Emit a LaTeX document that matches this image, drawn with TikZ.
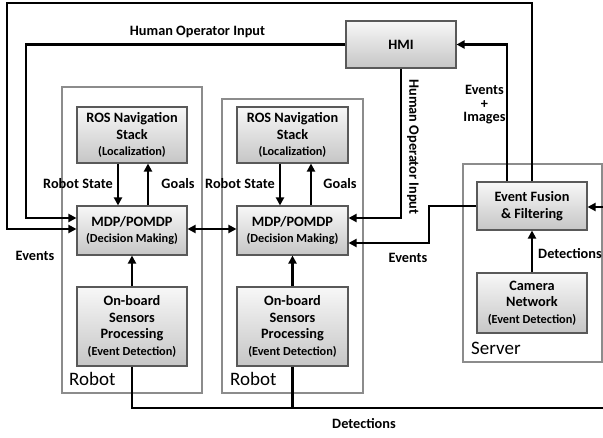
\documentclass[tikz,border=0pt]{standalone}
\usepackage{fontspec}
\setmainfont{Carlito}
\usetikzlibrary{arrows.meta}
\newcommand\smf{\fontsize{12.3}{14}\selectfont}
\begin{document}
\begin{tikzpicture}[x=1pt,y=-1pt,
  blk/.style={draw=black!65, line width=1.1pt, top color=gray!6, bottom color=gray!45,
    inner sep=1pt, align=center, font=\fontsize{14.3}{16.5}\selectfont\bfseries},
  cont/.style={draw=black!45, line width=1.1pt},
  conn/.style={line width=2.4pt, -{Triangle[length=8pt,width=8pt]}},
  plain/.style={line width=2.4pt},
  lbl/.style={font=\fontsize{14.3}{15}\selectfont\bfseries, inner sep=0pt, align=center},
  big/.style={font=\fontsize{19}{21}\selectfont, inner sep=0pt, anchor=west}
]
\useasboundingbox (0,0) rectangle (603,438);

% containers
\draw[cont] (62,87) rectangle (202,393);
\draw[cont] (222,99) rectangle (363,393);
\draw[cont] (463,164) rectangle (602,362);
\node[big] (rl1) at (69,379) {Robot};
\node[big] (rl2) at (230,379) {Robot};
\node[big] (sl) at (471,348) {Server};

% blocks
\node[blk, minimum width=110pt, minimum height=47pt] (HMI) at (401,44.5) {HMI};
\node[blk, minimum width=110pt, minimum height=56pt] (ROS1) at (132,135) {ROS Navigation\\Stack\\{\smf (Localization)}};
\node[blk, minimum width=111pt, minimum height=56pt] (ROS2) at (292.5,135) {ROS Navigation\\Stack\\{\smf (Localization)}};
\node[blk, minimum width=110pt, minimum height=49pt] (MDP1) at (132,230.5) {MDP/POMDP\\{\smf (Decision Making)}};
\node[blk, minimum width=111pt, minimum height=49pt] (MDP2) at (292.5,230.5) {MDP/POMDP\\{\smf (Decision Making)}};
\node[blk, minimum width=110pt, minimum height=79pt] (OB1) at (132,326.5) {On-board\\Sensors\\Processing\\{\smf (Event Detection)}};
\node[blk, minimum width=111pt, minimum height=79pt] (OB2) at (292.5,326.5) {On-board\\Sensors\\Processing\\{\smf (Event Detection)}};
\node[blk, minimum width=110pt, minimum height=48pt] (EF) at (532,206) {Event Fusion\\\& Filtering};
\node[blk, minimum width=110pt, minimum height=60pt] (CAM) at (532,303) {Camera\\Network\\{\smf (Event Detection)}};

% free ends
\coordinate (rin) at (606,207);
\coordinate (dout) at (606,408);

% outer events loop
\draw[conn] (EF.north) -- (532,3) -- (7,3) |- (MDP1.west |- 0,229);
% human operator input to robot 1
\draw[conn] (HMI.west) -- (26,44.5) |- (MDP1.west |- 0,218);
% human operator input to robot 2
\draw[conn] (HMI.south) |- (MDP2.east |- 0,218);
% events to robot 2
\draw[conn] (EF.west) -- (429,206) |- (MDP2.east |- 0,243);
% events + images to HMI
\draw[conn] (EF.north -| 507,0) |- (HMI.east);
% ROS <-> MDP
\draw[conn] (ROS1.south -| 118,0) -- (MDP1.north -| 118,0);
\draw[conn] (MDP1.north -| 148,0) -- (ROS1.south -| 148,0);
\draw[conn] (ROS2.south -| 280,0) -- (MDP2.north -| 280,0);
\draw[conn] (MDP2.north -| 311,0) -- (ROS2.south -| 311,0);
% sensors -> MDP
\draw[conn] (OB1.north) -- (MDP1.south);
\draw[conn] (OB2.north) -- (MDP2.south);
% MDP <-> MDP
\draw[conn, {Triangle[length=8pt,width=8pt]}-{Triangle[length=8pt,width=8pt]}] (MDP1.east |- 0,229) -- (MDP2.west |- 0,229);
% camera -> fusion
\draw[conn] (CAM.north) -- (EF.south);
% detections bus
\draw[plain] (OB1.south) |- (dout);
\draw[plain] (OB2.south) -- (OB2.south |- dout);
\draw[conn] (rin) -- (EF.east |- rin);

% labels
\node[lbl] (t1) at (197.5,32) {Human Operator Input};
\node[lbl, rotate=-90] (t2) at (413,147) {Human Operator Input};
\node[lbl, font=\fontsize{14.3}{13.5}\selectfont\bfseries] (t3) at (484.5,105) {Events\\+\\Images};
\node[lbl] (t4) at (78,184) {Robot State};
\node[lbl] (t5) at (178,184) {Goals};
\node[lbl] (t6) at (240,184) {Robot State};
\node[lbl] (t7) at (340,184) {Goals};
\node[lbl] (t8) at (35,256) {Events};
\node[lbl] (t9) at (408,258) {Events};
\node[lbl] (t10) at (570,254) {Detections};
\node[lbl] (t11) at (364,424) {Detections};
\end{tikzpicture}
\end{document}
